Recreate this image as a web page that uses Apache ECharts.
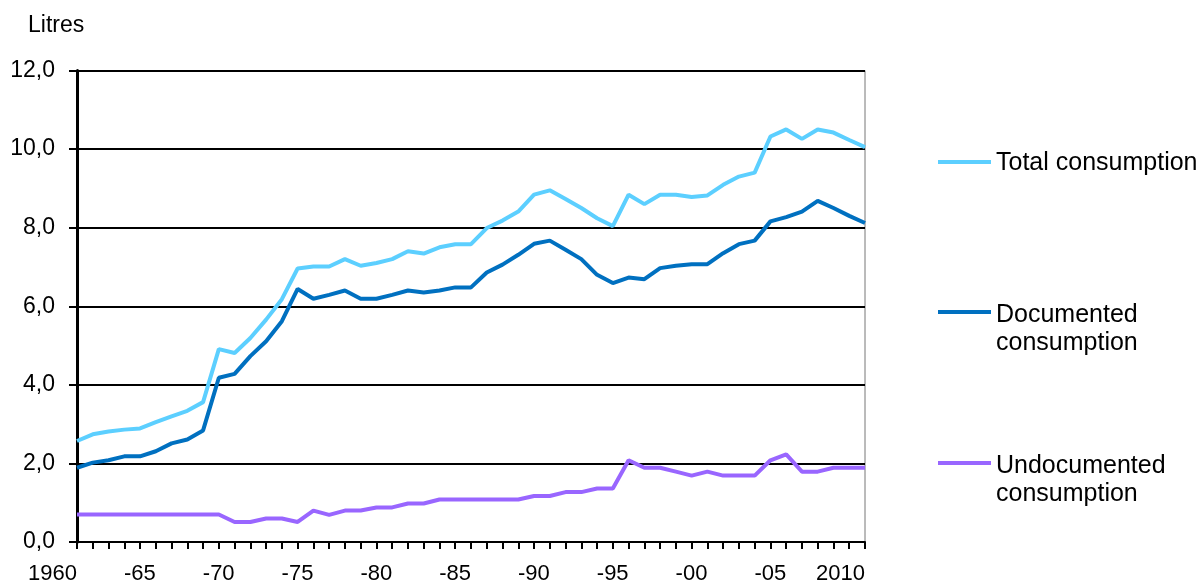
<!DOCTYPE html>
<html>
<head>
<meta charset="utf-8">
<script src="https://cdn.jsdelivr.net/npm/echarts@6/dist/echarts.min.js"></script>
<style>
html,body{margin:0;padding:0;background:#fff;}
#c{width:1203px;height:585px;}
</style>
</head>
<body>
<div id="c"></div>
<script>
const years = ['1960','1961','1962','1963','1964','1965','1966','1967','1968','1969',
  '1970','1971','1972','1973','1974','1975','1976','1977','1978','1979',
  '1980','1981','1982','1983','1984','1985','1986','1987','1988','1989',
  '1990','1991','1992','1993','1994','1995','1996','1997','1998','1999',
  '2000','2001','2002','2003','2004','2005','2006','2007','2008','2009','2010'];

const totalConsumption = [2.57,2.74,2.81,2.86,2.89,3.05,3.2,3.34,3.56,4.91,
  4.81,5.19,5.66,6.18,6.96,7.01,7.01,7.2,7.03,7.1,
  7.2,7.4,7.34,7.5,7.58,7.58,7.99,8.18,8.41,8.84,
  8.95,8.73,8.5,8.24,8.04,8.84,8.6,8.84,8.84,8.78,
  8.82,9.09,9.3,9.4,10.32,10.5,10.26,10.5,10.42,10.23,10.05];

const documentedConsumption = [1.89,2.02,2.08,2.18,2.18,2.31,2.51,2.61,2.84,4.18,
  4.28,4.73,5.11,5.62,6.44,6.19,6.29,6.4,6.19,6.19,
  6.29,6.4,6.35,6.4,6.48,6.48,6.86,7.06,7.31,7.59,
  7.67,7.44,7.2,6.8,6.59,6.73,6.69,6.97,7.03,7.07,
  7.07,7.35,7.58,7.67,8.16,8.27,8.41,8.68,8.5,8.3,8.12];

const undocumentedConsumption = [0.7,0.7,0.7,0.7,0.7,0.7,0.7,0.7,0.7,0.7,
  0.51,0.51,0.6,0.6,0.51,0.8,0.69,0.8,0.8,0.88,
  0.88,0.98,0.98,1.08,1.08,1.08,1.08,1.08,1.08,1.17,
  1.17,1.27,1.27,1.36,1.36,2.08,1.89,1.89,1.79,1.69,
  1.79,1.69,1.69,1.69,2.08,2.23,1.79,1.79,1.89,1.89,1.89];

const xTickLabels = {'1960':'1960','1965':'-65','1970':'-70','1975':'-75','1980':'-80',
  '1985':'-85','1990':'-90','1995':'-95','2000':'-00','2005':'-05','2010':'2010'};

const yTicks = {min: 0, max: 12, interval: 2};

const seriesNames = ['Total consumption','Documented consumption','Undocumented consumption'];
const colors = ['#5CCFFF','#0070C0','#9966FF'];

const FONT = '"Liberation Sans", Arial, sans-serif';

const chart = echarts.init(document.getElementById('c'), null, {renderer: 'canvas'});

const legendRich = {
  t: {fontFamily: FONT, fontSize: 25, lineHeight: 28, color: '#000'},
  a: {fontFamily: FONT, fontSize: 10, lineHeight: 13, color: '#000'},
  b: {fontFamily: FONT, fontSize: 10, lineHeight: 10, color: '#000'},
  c: {fontFamily: FONT, fontSize: 10, lineHeight: 34, color: '#000'}
};

function legendFor(name, top, multi) {
  return {
    data: [name],
    left: 938,
    top: top,
    orient: 'vertical',
    padding: 0,
    itemGap: 0,
    icon: 'rect',
    itemWidth: 53,
    itemHeight: 4,
    selectedMode: false,
    formatter: multi
      ? function (n) { const p = n.split(' '); return '{c| }\n{t|' + p[0] + '}\n{t|' + p[1] + '}'; }
      : function (n) { return '{a| }\n{t|' + n + '}\n{b| }'; },
    textStyle: {fontFamily: FONT, fontSize: 25, lineHeight: 28, color: '#000', rich: legendRich}
  };
}

chart.setOption({
  animation: false,
  backgroundColor: '#fff',
  title: {
    text: 'Litres',
    left: 28,
    top: 14,
    padding: 0,
    textStyle: {fontFamily: FONT, fontSize: 23, fontWeight: 'normal', color: '#000'}
  },
  grid: {
    left: 77, right: 338, top: 70.5, bottom: 42,
    show: true, borderColor: '#777', borderWidth: 1, backgroundColor: 'transparent'
  },
  legend: [
    legendFor(seriesNames[0], 136.5, false),
    legendFor(seriesNames[1], 267, true),
    legendFor(seriesNames[2], 418, true)
  ],
  xAxis: {
    type: 'category',
    data: years,
    boundaryGap: false,
    axisLine: {show: true, lineStyle: {color: '#000', width: 2}},
    axisTick: {show: true, interval: 0, length: 7, lineStyle: {color: '#000', width: 2}},
    axisLabel: {
      interval: 4,
      align: 'right',
      margin: 21,
      fontFamily: FONT,
      fontSize: 22,
      color: '#000',
      formatter: function (v) { return xTickLabels[v] || ''; }
    },
    splitLine: {show: false}
  },
  yAxis: {
    type: 'value',
    min: yTicks.min,
    max: yTicks.max,
    interval: yTicks.interval,
    axisLine: {show: true, lineStyle: {color: '#000', width: 3}},
    axisTick: {show: true, length: 8, lineStyle: {color: '#000', width: 2}},
    axisLabel: {
      margin: 22,
      fontFamily: FONT,
      fontSize: 23,
      color: '#000',
      formatter: function (v) { return v.toFixed(1).replace('.', ','); }
    },
    splitLine: {show: true, lineStyle: {color: '#000', width: 2}}
  },
  series: [
    {name: seriesNames[0], type: 'line', data: totalConsumption, color: colors[0],
     showSymbol: false, symbol: 'none', lineStyle: {width: 4, color: colors[0]}},
    {name: seriesNames[1], type: 'line', data: documentedConsumption, color: colors[1],
     showSymbol: false, symbol: 'none', lineStyle: {width: 4, color: colors[1]}},
    {name: seriesNames[2], type: 'line', data: undocumentedConsumption, color: colors[2],
     showSymbol: false, symbol: 'none', lineStyle: {width: 4, color: colors[2]}}
  ]
});
</script>
</body>
</html>
